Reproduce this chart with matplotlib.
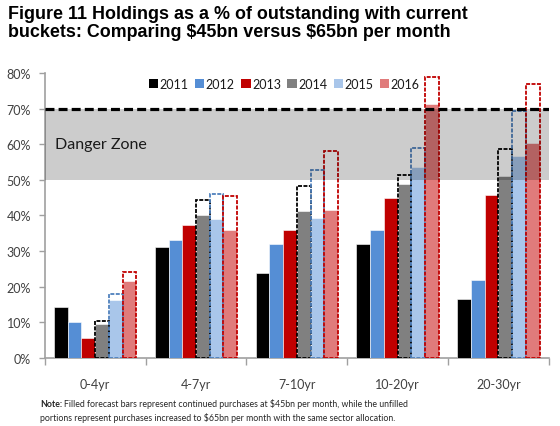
import matplotlib
matplotlib.use("Agg")
import matplotlib.pyplot as plt
import matplotlib.patches as mpatches
import numpy as np

BUCKETS = ["0-4yr", "4-7yr", "7-10yr", "10-20yr", "20-30yr"]
YEARS = ["2011", "2012", "2013", "2014", "2015", "2016"]

# filled bars: holdings % with continued $45bn/month
V2011 = [14.4, 31.3, 23.8, 32.0, 16.6]
V2012 = [10.1, 33.1, 32.0, 36.0, 21.9]
V2013 = [5.6, 37.4, 36.0, 44.9, 45.8]
V2014 = [9.7, 40.0, 41.2, 48.7, 51.0]
V2015 = [16.4, 39.0, 39.3, 53.6, 56.7]
V2016 = [21.5, 35.8, 41.4, 71.2, 60.4]

# unfilled (dashed) tops: purchases increased to $65bn/month
U2014 = [10.4, 44.4, 48.2, 51.4, 58.7]
U2015 = [18.0, 46.1, 52.8, 58.9, 69.2]
U2016 = [24.2, 45.4, 58.1, 78.8, 76.9]

DANGER_LO, DANGER_HI = 50, 70
YTICKS = [0, 10, 20, 30, 40, 50, 60, 70, 80]

FILLED = [V2011, V2012, V2013, V2014, V2015, V2016]
UNFILLED = {3: U2014, 4: U2015, 5: U2016}

FILL = ["#000000", "#558ED5", "#C00000", "#808080", "#A9C6EA", "#E07B7B"]
EDGE = {3: "#000000", 4: "#4F81BD", 5: "#C00000"}
TXT = "#404040"

plt.rcParams["font.family"] = ["Lato", "DejaVu Sans"]

fig = plt.figure(figsize=(5.6, 4.27), dpi=100, facecolor="white")
ax = fig.add_axes([0.080, 0.159, 0.900, 0.668])

x = np.arange(len(BUCKETS))
W = 0.136

for j, vals in enumerate(FILLED):
    xs = x + (j - 2.5) * W
    ax.bar(xs, vals, W, color=FILL[j], edgecolor="white", linewidth=0.4, zorder=3)
    if j in UNFILLED:
        ax.bar(xs, UNFILLED[j], W, fill=False, edgecolor=EDGE[j],
               linewidth=1.3, linestyle=(0, (2.2, 0.8)), zorder=4)

# danger zone shading sits on top of the bars
ax.axhspan(DANGER_LO, DANGER_HI, color="black", alpha=0.2, lw=0, zorder=5)
ax.axhline(DANGER_HI, color="black", lw=2.3, dashes=(2.8, 1.3), zorder=6)
ax.text(-0.4, 60, "Danger Zone", fontsize=11.5, color="#1a1a1a",
        ha="left", va="center", zorder=7)

ax.set_xlim(-0.5, len(BUCKETS) - 0.5)
ax.set_ylim(0, 80)
ax.set_yticks(YTICKS)
ax.set_yticklabels([f"{t}%" for t in YTICKS], fontsize=9, color=TXT)
ax.set_xticks(x)
ax.set_xticklabels(BUCKETS, fontsize=9, color=TXT)
ax.set_xticks(np.arange(-0.5, len(BUCKETS) + 0.5, 1), minor=True)
ax.tick_params(axis="x", which="major", length=0, pad=14)
ax.tick_params(axis="x", which="minor", length=5, color="#A0A0A0", width=1)
ax.tick_params(axis="y", length=4, color="#A0A0A0", width=1, pad=6)
for s in ["top", "right"]:
    ax.spines[s].set_visible(False)
for s in ["left", "bottom"]:
    ax.spines[s].set_color("#A0A0A0")
    ax.spines[s].set_linewidth(1.2)

handles = [mpatches.Patch(facecolor=FILL[j], label=YEARS[j]) for j in range(6)]
leg = ax.legend(handles=handles, loc="center", bbox_to_anchor=(0.475, 0.962), ncol=6,
                frameon=False, fontsize=9, handlelength=0.75, handleheight=0.75,
                handletextpad=0.12, columnspacing=0.5, labelcolor="#1a1a1a")
leg.set_zorder(8)

fig.text(0.014, 0.985,
         "Figure 11 Holdings as a % of outstanding with current\n"
         "buckets: Comparing \\$45bn versus \\$65bn per month",
         fontsize=12.9, fontweight="bold", family="Liberation Sans",
         ha="left", va="top", linespacing=1.08, color="black")

note_b = fig.text(0.071, 0.047, "Note:", fontsize=6.3, fontweight="bold",
                  color="#262626", ha="left", va="baseline")
fig.canvas.draw()
bb = note_b.get_window_extent()
x1 = (bb.x1 + 2) / fig.bbox.width
fig.text(x1, 0.047,
         "Filled forecast bars represent continued purchases at \\$45bn per month, while the unfilled",
         fontsize=6.3, color="#262626", ha="left", va="baseline")
fig.text(0.071, 0.014,
         "portions represent purchases increased to \\$65bn per month with the same sector allocation.",
         fontsize=6.3, color="#262626", ha="left", va="baseline")

fig.savefig("out.png", dpi=100, facecolor="white")
